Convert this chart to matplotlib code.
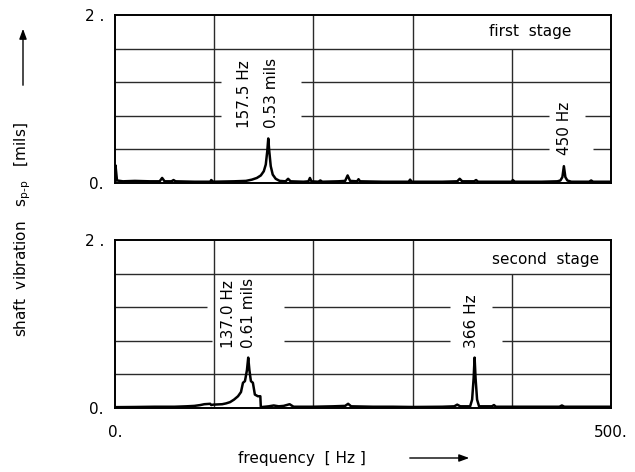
import matplotlib
matplotlib.use("Agg")
import matplotlib.pyplot as plt

# ---------------- data ----------------
top_freq = [0, 0.5, 2, 8, 20, 35, 45, 47.5, 50, 57, 59, 61, 80, 96, 97, 99, 120, 132, 138, 143,
            147, 150, 152, 153.5, 154.5, 155.5, 157, 159, 162, 166, 172, 174.5, 177, 190, 195,
            196.5, 198, 205, 207, 209, 225, 232, 234.5, 237, 244, 245.5, 247, 270, 296, 297.5,
            299, 330, 345, 347.5, 350, 362, 364, 366, 385, 400, 401, 403, 430, 446, 449, 451,
            452.5, 454, 456, 460, 478, 480, 482, 500]
top_amp = [0.0, 0.21, 0.03, 0.02, 0.025, 0.02, 0.02, 0.06, 0.02, 0.02, 0.035, 0.02, 0.015, 0.015,
           0.035, 0.015, 0.02, 0.025, 0.04, 0.06, 0.09, 0.14, 0.22, 0.38, 0.53, 0.38, 0.2, 0.1,
           0.05, 0.025, 0.02, 0.05, 0.02, 0.015, 0.02, 0.06, 0.02, 0.015, 0.03, 0.015, 0.02,
           0.025, 0.09, 0.025, 0.02, 0.045, 0.02, 0.015, 0.015, 0.04, 0.015, 0.015, 0.02, 0.05,
           0.02, 0.02, 0.035, 0.015, 0.015, 0.015, 0.035, 0.015, 0.015, 0.02, 0.03, 0.07, 0.2,
           0.07, 0.03, 0.015, 0.015, 0.03, 0.015, 0.015]

bot_freq = [0, 20, 40, 60, 72, 80, 86, 90, 96, 97, 99, 108, 112, 116, 120, 124, 127, 129, 131,
            133, 134.3, 135.5, 137, 139, 141, 144, 146.5, 147, 155, 160, 165, 170, 176, 180, 200,
            220, 232, 235, 238, 260, 280, 300, 330, 342, 345, 348, 358, 360, 361.5, 362.5, 363.5,
            365, 367, 380, 382, 384, 420, 448, 450.5, 453, 500]
bot_amp = [0.01, 0.012, 0.015, 0.015, 0.02, 0.025, 0.035, 0.045, 0.05, 0.035, 0.04, 0.045, 0.055,
           0.07, 0.1, 0.14, 0.19, 0.3, 0.32, 0.45, 0.6, 0.45, 0.32, 0.3, 0.16, 0.14, 0.14, 0.01,
           0.02, 0.03, 0.02, 0.025, 0.045, 0.015, 0.015, 0.02, 0.025, 0.05, 0.02, 0.015, 0.015,
           0.012, 0.015, 0.02, 0.04, 0.02, 0.02, 0.1, 0.35, 0.6, 0.35, 0.1, 0.02, 0.02, 0.035,
           0.015, 0.015, 0.015, 0.03, 0.015, 0.015]

y_ticks = [0, 2]
y_ticklabels = ["0.", "2 ."]
x_ticks = [0, 500]
x_ticklabels = ["0.", "500."]
top_title = "first  stage"
bot_title = "second  stage"
top_notes = ["157.5 Hz", "0.53 mils", "450 Hz"]
bot_notes = ["137.0 Hz", "0.61 mils", "366 Hz"]

FONT = "DejaVu Sans"
FS = 11
plt.rcParams["font.family"] = FONT
plt.rcParams["mathtext.fontset"] = "dejavusans"

fig = plt.figure(figsize=(6.35, 4.72), dpi=100)
ax1 = fig.add_axes([0.1811, 0.6123, 0.7811, 0.3559])
ax2 = fig.add_axes([0.1811, 0.1356, 0.7811, 0.3559])

GRID_C = "#2a2a2a"


def style(ax, gaps, show_x):
    ax.set_xlim(0, 500)
    ax.set_ylim(0, 2)
    for s in ax.spines.values():
        s.set_linewidth(1.4)
        s.set_color("black")
    ax.set_yticks(y_ticks)
    ax.set_yticklabels(y_ticklabels, fontsize=FS)
    ax.tick_params(axis="y", length=0, pad=8)
    if show_x:
        ax.set_xticks(x_ticks)
        ax.set_xticklabels(x_ticklabels, fontsize=FS)
        ax.tick_params(axis="x", length=0, pad=12)
    else:
        ax.set_xticks([])
    # vertical grid
    for xv in (100, 200, 300):
        ax.vlines(xv, 0, 2, color=GRID_C, lw=1.0, zorder=1)
    ax.vlines(400, 0, 1.6, color=GRID_C, lw=1.0, zorder=1)
    # horizontal grid with gaps around annotations
    for yv in (0.4, 0.8, 1.2, 1.6):
        segs = [(0, 500)]
        for (gy, g0, g1) in gaps:
            if gy == yv:
                new = []
                for a, b in segs:
                    if g1 <= a or g0 >= b:
                        new.append((a, b))
                    else:
                        if g0 > a:
                            new.append((a, g0))
                        if g1 < b:
                            new.append((g1, b))
                segs = new
        for a, b in segs:
            ax.hlines(yv, a, b, color=GRID_C, lw=1.0, zorder=1)


style(ax1, [(1.2, 107, 188), (0.8, 107, 188), (0.8, 438, 474), (0.4, 438, 482)], False)
style(ax2, [(1.2, 93, 170), (0.8, 98, 170), (1.2, 338, 380), (0.8, 338, 390)], True)

ax1.plot(top_freq, top_amp, color="black", lw=1.8, zorder=3)
ax2.plot(bot_freq, bot_amp, color="black", lw=1.8, zorder=3)

# annotations
ax1.text(130.3, 0.66, top_notes[0], rotation=90, ha="center", va="bottom", fontsize=FS)
ax1.text(157.6, 0.66, top_notes[1], rotation=90, ha="center", va="bottom", fontsize=FS)
ax1.text(453.5, 0.33, top_notes[2], rotation=90, ha="center", va="bottom", fontsize=FS)
ax1.text(459.6, 1.8, top_title, ha="right", va="center", fontsize=FS)

ax2.text(114.5, 0.71, bot_notes[0], rotation=90, ha="center", va="bottom", fontsize=FS)
ax2.text(134.5, 0.71, bot_notes[1], rotation=90, ha="center", va="bottom", fontsize=FS)
ax2.text(359.4, 0.71, bot_notes[2], rotation=90, ha="center", va="bottom", fontsize=FS)
ax2.text(488, 1.77, bot_title, ha="right", va="center", fontsize=FS)

# axis labels with arrows
fig.text(23 / 635, 1 - 230 / 472, "shaft  vibration   s$_{\\mathrm{p\u2010p}}$   [mils]",
         rotation=90, ha="center", va="center", fontsize=FS)
fig.add_artist(matplotlib.patches.FancyArrowPatch(
    (23 / 635, 1 - 88 / 472), (23 / 635, 1 - 26 / 472), transform=fig.transFigure,
    arrowstyle="-|>,head_length=6,head_width=2.2", color="black", lw=1.0))
fig.text(302 / 635, 1 - 458 / 472, "frequency  [ Hz ]", ha="center", va="center", fontsize=FS)
fig.add_artist(matplotlib.patches.FancyArrowPatch(
    (407 / 635, 1 - 458 / 472), (472 / 635, 1 - 458 / 472), transform=fig.transFigure,
    arrowstyle="-|>,head_length=6,head_width=2.2", color="black", lw=1.0))

fig.savefig("out.png", dpi=100)
